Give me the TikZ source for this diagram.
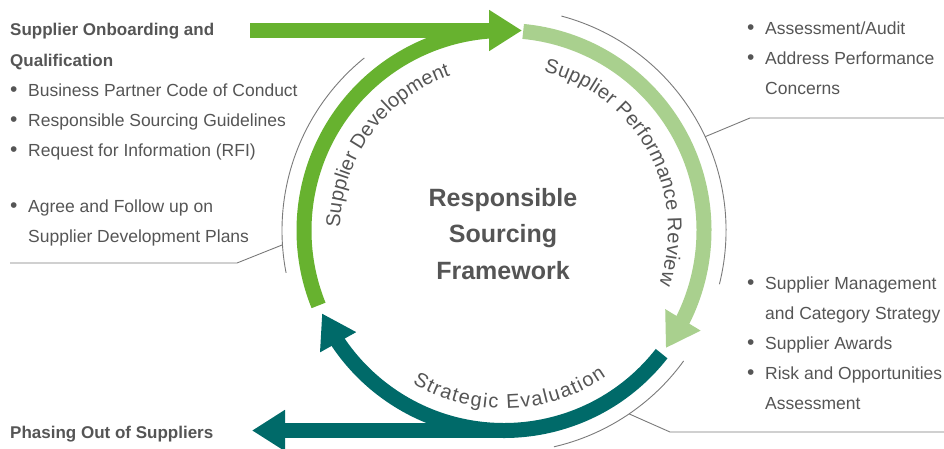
\documentclass[tikz,border=0pt]{standalone}
\usepackage{fontspec}
\setmainfont{Liberation Sans}
\usetikzlibrary{arrows.meta,bending,decorations.text}
\definecolor{grn}{HTML}{67B22F}
\definecolor{lgrn}{HTML}{A9D08E}
\definecolor{rsteal}{HTML}{006A69}
\definecolor{txt}{HTML}{555555}
\definecolor{lne}{HTML}{7A7A7A}
\begin{document}
\begin{tikzpicture}[x=1pt,y=1pt,
  ring/.style={line width=15pt},
  tipA/.style={-{Triangle[length=33pt,width=39pt]}},
  leader/.style={draw=lne,line width=0.9pt},
  item/.style={anchor=base west,text=txt,font=\fontsize{17.5}{21}\selectfont,inner sep=0pt},
  bul/.style={anchor=base west,text=txt,font=\fontsize{21}{21}\selectfont,inner sep=0pt},
  head/.style={anchor=base west,text=txt,font=\bfseries\fontsize{17}{21}\selectfont,inner sep=0pt},
  title/.style={anchor=base,text=txt,font=\bfseries\fontsize{25}{30}\selectfont,inner sep=0pt},
  ringtext/.style={decorate,decoration={text along path,text align={fit to path},text color=txt,
     text={|\fontsize{20}{20}\selectfont|#1}}}
]
\useasboundingbox (0,0) rectangle (944,448);
\coordinate (c) at (504,217.5);

% thin outer arcs
\draw[leader] ([shift={(129:222)}]c) arc[start angle=129,end angle=191,radius=222];
\draw[leader] ([shift={(75:222)}]c) arc[start angle=75,end angle=-14,radius=222];
\draw[leader] ([shift={(-36:222)}]c) arc[start angle=-36,end angle=-77,radius=222];

% leaders
\coordinate (lA) at ([shift={(183.7:222)}]c);
\coordinate (lB) at (237,185);
\coordinate (lC) at (10,185);
\draw[leader] (lA) -- (lB) -- (lC);
\coordinate (rA) at ([shift={(25:222)}]c);
\coordinate (rB) at (750,330);
\coordinate (rC) at (944,330);
\draw[leader] (rA) -- (rB) -- (rC);
\coordinate (bA) at ([shift={(-55.7:222)}]c);
\coordinate (bB) at (670,16);
\coordinate (bC) at (944,16);
\draw[leader] (bA) -- (bB) -- (bC);

% rings
\coordinate (gs) at (250,417.5);
\coordinate (gt) at (522,417.5);
\draw[ring,grn] ([shift={(202:200)}]c) arc[start angle=202,end angle=90,radius=200];
\draw[ring,grn,tipA] (gs) -- (gt);
\draw[ring,lgrn,tipA] ([shift={(84.5:200)}]c) arc[start angle=84.5,end angle=-36,radius=200];
\draw[ring,rsteal,tipA] ([shift={(-38:200)}]c) arc[start angle=-38,end angle=-155.5,radius=200];
\coordinate (ts) at (504,17.5);
\coordinate (tt) at (252,17.5);
\draw[ring,rsteal,tipA] (ts) -- (tt);

% ring labels
\path[ringtext={Supplier Development}] ([shift={(179:164)}]c) arc[start angle=179,end angle=109,radius=164];
\path[ringtext={Supplier Performance Review}] ([shift={(76:164)}]c) arc[start angle=76,end angle=-19,radius=164];
\path[ringtext={Strategic Evaluation}] ([shift={(-121:178)}]c) arc[start angle=-121,end angle=-55,radius=178];

% centre title
\node[title] (t1) at (503,242) {Responsible};
\node[title] (t2) at (503,206) {Sourcing};
\node[title] (t3) at (503,169) {Framework};

% left block
\node[head] (h1) at (10,412.7) {Supplier Onboarding and};
\node[head] (h2) at (10,381.7) {Qualification};
\node[bul] (b1) at (10,351.7) {•};
\node[item] (l1) at (28,351.7) {Business Partner Code of Conduct};
\node[bul] (b2) at (10,321.7) {•};
\node[item] (l2) at (28,321.7) {Responsible Sourcing Guidelines};
\node[bul] (b3) at (10,291.7) {•};
\node[item] (l3) at (28,291.7) {Request for Information (RFI)};
\node[bul] (b4) at (10,235.7) {•};
\node[item] (l4) at (28,235.7) {Agree and Follow up on};
\node[item] (l5) at (28,205.7) {Supplier Development Plans};

% right top block
\node[bul] (b5) at (747,413.7) {•};
\node[item] (r1) at (765,413.7) {Assessment/Audit};
\node[bul] (b6) at (747,383.7) {•};
\node[item] (r2) at (765,383.7) {Address Performance};
\node[item] (r3) at (765,353.7) {Concerns};

% right bottom block
\node[bul] (b7) at (747,158.7) {•};
\node[item] (s1) at (765,158.7) {Supplier Management};
\node[item] (s2) at (765,128.7) {and Category Strategy};
\node[bul] (b8) at (747,98.7) {•};
\node[item] (s3) at (765,98.7) {Supplier Awards};
\node[bul] (b9) at (747,68.7) {•};
\node[item] (s4) at (765,68.7) {Risk and Opportunities};
\node[item] (s5) at (765,38.7) {Assessment};

% bottom left
\node[head] (p1) at (10,9.7) {Phasing Out of Suppliers};
\end{tikzpicture}
\end{document}
